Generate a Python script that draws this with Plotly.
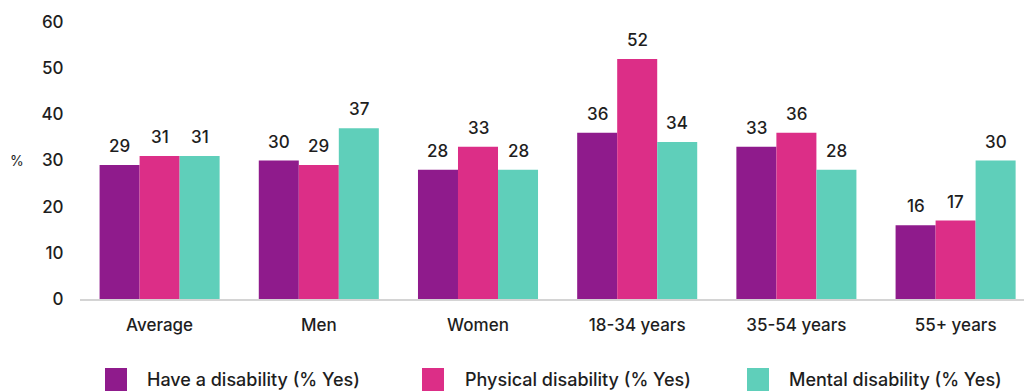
import plotly.graph_objects as go

categories = ["Average", "Men", "Women", "18-34 years", "35-54 years", "55+ years"]
series_names = ["Have a disability (% Yes)", "Physical disability (% Yes)", "Mental disability (% Yes)"]
have_disability = [29, 30, 28, 36, 33, 16]
physical_disability = [31, 29, 33, 52, 36, 17]
mental_disability = [31, 37, 28, 34, 28, 30]
y_ticks = [0, 10, 20, 30, 40, 50, 60]

colors = ["#8f1b8c", "#dc2e87", "#5fcfba"]
series = [have_disability, physical_disability, mental_disability]

FONT = "Inter"
TXT = "#1e1e1e"
bargap = 0.246
bw = (1 - bargap) / 3

fig = go.Figure()
xs = list(range(len(categories)))
annotations = []
for k, (name, vals, col) in enumerate(zip(series_names, series, colors)):
    fig.add_trace(go.Bar(x=xs, y=vals, name=name, marker=dict(color=col, line=dict(width=0)),
                         showlegend=False))
    for i, v in enumerate(vals):
        annotations.append(dict(x=i + (k - 1) * bw, y=v, text=str(v), showarrow=False,
                                xref="x", yref="y", yanchor="bottom", yshift=7,
                                font=dict(family=FONT, size=17, color=TXT, weight=500)))

# legend drawn as squares + labels
W, L = 944, 80
H, B = 277, 299
leg_sq_x = [105, 422, 747]
leg_tx_x = [145, 463, 787]
shapes = []
for k in range(3):
    x0 = (leg_sq_x[k] - L) / W
    x1 = (leg_sq_x[k] + 22 - L) / W
    y0 = (B - 391) / H
    y1 = (B - 368) / H
    shapes.append(dict(type="rect", xref="paper", yref="paper", x0=x0, x1=x1, y0=y0, y1=y1,
                       fillcolor=colors[k], line=dict(width=0)))
    annotations.append(dict(x=(leg_tx_x[k] - L) / W, y=(B - 379) / H, xref="paper", yref="paper",
                            text=series_names[k], showarrow=False, xanchor="left", yanchor="middle",
                            font=dict(family=FONT, size=18, color=TXT, weight=500)))

annotations.append(dict(x=(17 - L) / W, y=30, xref="paper", yref="y", text="%", showarrow=False,
                        xanchor="center", yanchor="middle",
                        font=dict(family=FONT, size=14, color=TXT)))

fig.update_layout(
    width=1024, height=392,
    margin=dict(l=80, r=0, t=22, b=93),
    paper_bgcolor="white", plot_bgcolor="white",
    barmode="group", bargap=bargap, bargroupgap=0,
    annotations=annotations, shapes=shapes,
    xaxis=dict(tickmode="array", tickvals=xs, ticktext=categories,
               range=[-0.5, -0.5 + W / 159.2], showgrid=False, zeroline=False,
               showline=True, linecolor="#d4d4d4", linewidth=2,
               ticks="outside", ticklen=10, tickcolor="rgba(0,0,0,0)",
               tickfont=dict(family=FONT, size=17, color=TXT, weight=500)),
    yaxis=dict(range=[0, 60], tickvals=y_ticks, showgrid=False, zeroline=False, showline=False,
               ticks="outside", ticklen=12, tickcolor="rgba(0,0,0,0)",
               tickfont=dict(family=FONT, size=17, color=TXT, weight=500)),
)

fig.write_html("out.html")
